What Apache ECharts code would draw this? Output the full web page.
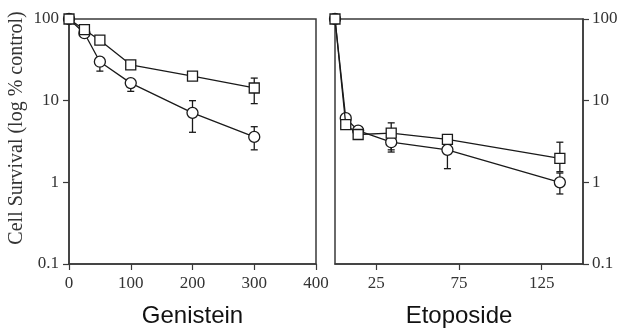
<!DOCTYPE html>
<html>
<head>
<meta charset="utf-8">
<script src="https://cdn.jsdelivr.net/npm/echarts@6/dist/echarts.min.js"></script>
<style>
  html, body { margin: 0; padding: 0; background: #fff; }
  #chart { width: 618px; height: 329px; }
</style>
</head>
<body>
<div id="chart"></div>
<script>
// Genistein panel
const genDose = [0, 25, 50, 100, 200, 300];
const genSquare = [100, 74, 55, 27.5, 20, 14.3];
const genCircle = [100, 67, 30, 16.4, 7.1, 3.6];
const genSquareLow = [null, null, null, null, null, 9.2];
const genSquareHigh = [null, null, null, null, null, 18.9];
const genCircleLow = [null, null, 23, 13, 4.1, 2.5];
const genCircleHigh = [null, null, null, null, 10, 4.8];

// Etoposide panel
const etoDose = [0, 6.5, 14, 34, 68, 136];
const etoSquare = [100, 5.1, 3.85, 4.0, 3.35, 1.96];
const etoCircle = [100, 6.1, 4.3, 3.1, 2.5, 1.0];
const etoSquareLow = [null, null, null, 2.5, null, 1.35];
const etoSquareHigh = [null, null, null, 5.35, null, 3.1];
const etoCircleLow = [null, null, null, 2.35, 1.47, 0.72];
const etoCircleHigh = [null, null, null, null, null, 1.3];

const etoTicks = [25, 75, 125];

const ink = '#1a1a1a';
const axisInk = '#3a3a3a';
const serif = '"Liberation Serif", "Times New Roman", serif';
const sans = '"Liberation Sans", Arial, sans-serif';

const pairs = (xs, ys) => xs.map((x, i) => [x, ys[i]]);

function errData(xs, ys, lows, highs) {
  const out = [];
  xs.forEach((x, i) => {
    if (lows[i] == null && highs[i] == null) return;
    out.push([x, ys[i], lows[i] == null ? '-' : lows[i], highs[i] == null ? '-' : highs[i]]);
  });
  return out;
}

function renderErr(params, api) {
  const x = api.value(0);
  const y = api.value(1);
  const lo = api.value(2);
  const hi = api.value(3);
  const hasLo = !isNaN(lo);
  const hasHi = !isNaN(hi);
  const pLo = api.coord([x, hasLo ? lo : y]);
  const pHi = api.coord([x, hasHi ? hi : y]);
  const cap = 3.5;
  const style = { stroke: ink, lineWidth: 1.3 };
  const children = [{
    type: 'line',
    shape: { x1: pLo[0], y1: pLo[1], x2: pHi[0], y2: pHi[1] },
    style
  }];
  if (hasLo) children.push({ type: 'line', shape: { x1: pLo[0] - cap, y1: pLo[1], x2: pLo[0] + cap, y2: pLo[1] }, style });
  if (hasHi) children.push({ type: 'line', shape: { x1: pHi[0] - cap, y1: pHi[1], x2: pHi[0] + cap, y2: pHi[1] }, style });
  return { type: 'group', children };
}

const lineSeries = (idx, data, symbol, size, z) => ({
  type: 'line',
  xAxisIndex: idx,
  yAxisIndex: idx,
  data,
  symbol,
  symbolSize: size,
  showAllSymbol: true,
  lineStyle: { color: ink, width: 1.3 },
  itemStyle: { color: '#fff', borderColor: ink, borderWidth: 1.3 },
  emphasis: { disabled: true },
  z,
  animation: false
});

const errSeries = (idx, data) => ({
  type: 'custom',
  xAxisIndex: idx,
  yAxisIndex: idx,
  data,
  renderItem: renderErr,
  z: 1,
  animation: false
});

const logAxis = (idx, position, margin) => ({
  type: 'log',
  logBase: 10,
  gridIndex: idx,
  position,
  min: 0.1,
  max: 100,
  axisLine: { show: true, onZero: false, lineStyle: { color: axisInk, width: 1.5 } },
  axisTick: { show: true, inside: false, length: 6, lineStyle: { color: axisInk, width: 1.2 } },
  minorTick: { show: false },
  splitLine: { show: false },
  axisLabel: {
    fontFamily: serif, fontSize: 17, color: '#333', margin,
    formatter: v => String(+(+v).toPrecision(3))
  }
});

const valueX = (idx, min, max, name) => ({
  type: 'value', gridIndex: idx, min, max,
  name, nameLocation: 'middle', nameGap: 40,
  nameTextStyle: { fontFamily: sans, fontSize: 24, color: '#111' },
  axisLine: { onZero: false, lineStyle: { color: axisInk, width: 1.5 } },
  axisTick: { show: true, length: 6, lineStyle: { color: axisInk, width: 1.2 } },
  splitLine: { show: false },
  axisLabel: { fontFamily: serif, fontSize: 17, color: '#333', margin: 11 }
});

const genX = valueX(0, 0, 400, 'Genistein');
genX.interval = 100;
const etoX = valueX(1, 0, 150, 'Etoposide');
etoX.axisTick.customValues = etoTicks;
etoX.axisLabel.customValues = etoTicks;

const gridBase = {
  top: 19, bottom: 65, show: true, borderColor: axisInk, borderWidth: 1.5,
  backgroundColor: 'transparent', containLabel: false, outerBoundsMode: 'none'
};

const option = {
  backgroundColor: '#fff',
  animation: false,
  grid: [
    Object.assign({ left: 69, right: 302 }, gridBase),
    Object.assign({ left: 335, right: 35 }, gridBase)
  ],
  graphic: [{
    type: 'text',
    x: 17,
    y: 128,
    rotation: Math.PI / 2,
    style: {
      text: 'Cell Survival (log % control)',
      fontFamily: serif,
      fontSize: 20,
      fill: '#333',
      align: 'center',
      verticalAlign: 'middle'
    }
  }],
  xAxis: [genX, etoX],
  yAxis: [logAxis(0, 'left', 10), logAxis(1, 'right', 9)],
  series: [
    errSeries(0, errData(genDose, genSquare, genSquareLow, genSquareHigh)),
    errSeries(0, errData(genDose, genCircle, genCircleLow, genCircleHigh)),
    lineSeries(0, pairs(genDose, genCircle), 'circle', 11, 2),
    lineSeries(0, pairs(genDose, genSquare), 'rect', 10, 3),
    errSeries(1, errData(etoDose, etoSquare, etoSquareLow, etoSquareHigh)),
    errSeries(1, errData(etoDose, etoCircle, etoCircleLow, etoCircleHigh)),
    lineSeries(1, pairs(etoDose, etoCircle), 'circle', 11, 2),
    lineSeries(1, pairs(etoDose, etoSquare), 'rect', 10, 3)
  ]
};

const chart = echarts.init(document.getElementById('chart'), null, { renderer: 'canvas' });
chart.setOption(option);
</script>
</body>
</html>
